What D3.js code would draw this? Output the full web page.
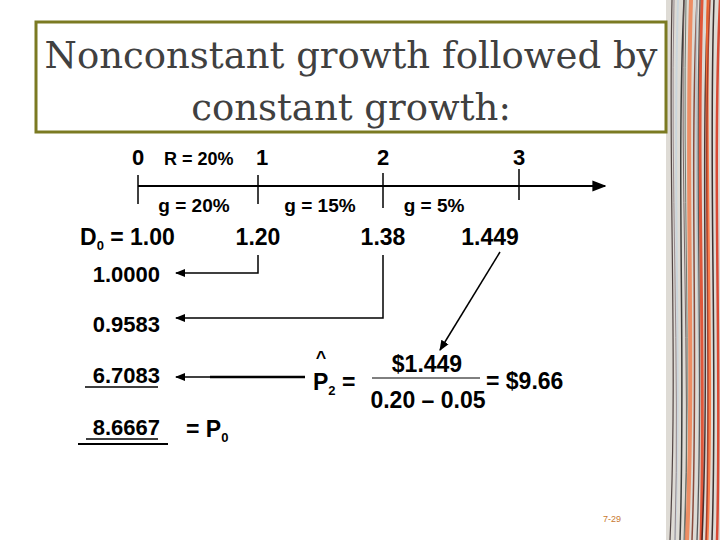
<!DOCTYPE html>
<html><head><meta charset="utf-8">
<script src="https://cdn.jsdelivr.net/npm/d3@7"></script>
<style>body{margin:0;background:#fff}svg{display:block}</style>
</head><body>
<script>
// slide data
const periods = [0, 1, 2, 3]
const periodLabels = ["0", "1", "2", "3"]
const growthLabels = ["g = 20%", "g = 15%", "g = 5%"]
const dividendLabels = ["1.20", "1.38", "1.449"]
const pvLabels = ["1.0000", "0.9583", "6.7083"]
const priceLabel = "8.6667"

const W = 720, H = 540
const svg = d3.select("body").append("svg").attr("width", W).attr("height", H)
  .style("font-family", "'Liberation Sans', Arial, sans-serif")

const defs = svg.append("defs")
defs.append("marker").attr("id", "ah").attr("viewBox", "0 0 10 10")
  .attr("refX", 9).attr("refY", 5).attr("markerWidth", 7).attr("markerHeight", 7)
  .attr("orient", "auto-start-reverse")
  .append("path").attr("d", "M0,1L10,5L0,9Z").attr("fill", "#000")

// right decorative strip
svg.append("rect").attr("x", 666).attr("y", 0).attr("width", 54).attr("height", H).attr("fill", "#dedbd5")
const streaks = [[672,"#3a2a2a",1.2],[676,"#c8d4dc",2],[680,"#222",1.5],[684,"#6a5050",1],[689,"#f08050",4],[693,"#7a3020",1.5],
  [697,"#b0c0c8",1.5],[700,"#e04020",3],[704,"#301818",1.5],[708,"#ff6a30",3],[712,"#201010",1.5],[716,"#d83018",2.5],
  [686,"#5a6a60",1],[698,"#444",1.2],[706,"#993322",1.5],[674,"#8a7a80",1]]
streaks.forEach(([x, c, w], i) => {
  svg.append("path").attr("d", `M${x + (i % 3) * 2},0 C${x - 4},180 ${x + 6},360 ${x - 2 + (i % 4)},540`)
    .attr("stroke", c).attr("stroke-width", w).attr("fill", "none").attr("opacity", 0.85)
})

// title box
svg.append("rect").attr("x", 36).attr("y", 22).attr("width", 630).attr("height", 110)
  .attr("fill", "#fff").attr("stroke", "#7b7a22").attr("stroke-width", 3)
const title = svg.append("text").attr("text-anchor", "middle").attr("fill", "#404040")
  .style("font-family", "'DejaVu Serif', 'Liberation Serif', serif").attr("font-size", 37)
title.append("tspan").attr("x", 351).attr("y", 68).text("Nonconstant growth followed by")
title.append("tspan").attr("x", 351).attr("y", 120).text("constant growth:")

const x = d3.scaleLinear().domain(periods).range([138, 258, 383, 519])
const lineY = 186

// timeline
svg.append("line").attr("x1", x(0)).attr("x2", 605).attr("y1", lineY).attr("y2", lineY)
  .attr("stroke", "#000").attr("stroke-width", 2).attr("marker-end", "url(#ah)")
const tickExt = [[175, 204], [175, 204], [173, 208], [169, 200]]
periods.forEach((p, i) => {
  svg.append("line").attr("x1", x(p)).attr("x2", x(p)).attr("y1", tickExt[i][0]).attr("y2", tickExt[i][1])
    .attr("stroke", "#000").attr("stroke-width", 1.5)
  svg.append("text").attr("x", x(p) + (i === 1 ? 4 : 0)).attr("y", 165).attr("text-anchor", "middle")
    .attr("font-size", 22).attr("font-weight", "bold").text(periodLabels[i])
})
svg.append("text").attr("x", 164).attr("y", 165).attr("font-size", 18).attr("font-weight", "bold").text("R = 20%")

const gx = [194, 320, 434]
growthLabels.forEach((g, i) => svg.append("text").attr("x", gx[i]).attr("y", 212).attr("text-anchor", "middle")
  .attr("font-size", 19).attr("font-weight", "bold").text(g))

// dividends
const d0 = svg.append("text").attr("x", 80).attr("y", 245).attr("font-size", 23).attr("font-weight", "bold")
d0.append("tspan").text("D")
d0.append("tspan").attr("font-size", 13).attr("dy", 5).text("0")
d0.append("tspan").attr("dy", -5).text(" = 1.00")
const dx = [x(1), x(2), 490]
dividendLabels.forEach((d, i) => svg.append("text").attr("x", dx[i]).attr("y", 245).attr("text-anchor", "middle")
  .attr("font-size", 23).attr("font-weight", "bold").text(d))

// present values column
const pvY = [282, 332, 383]
pvLabels.forEach((v, i) => svg.append("text").attr("x", 160).attr("y", pvY[i]).attr("text-anchor", "end")
  .attr("font-size", 22).attr("font-weight", "bold").text(v))
svg.append("line").attr("x1", 85).attr("x2", 158).attr("y1", 387).attr("y2", 387).attr("stroke", "#000").attr("stroke-width", 1.5)

const arrow = d => svg.append("path").attr("d", d).attr("fill", "none").attr("stroke", "#000")
  .attr("stroke-width", 1.5).attr("marker-end", "url(#ah)")
arrow(`M${x(1)},255V273H176`)
arrow(`M${x(2)},255V318H176`)
arrow(`M500,252L440,350`)
arrow(`M305,377H176`)
svg.append("line").attr("x1", 210).attr("x2", 305).attr("y1", 377).attr("y2", 377).attr("stroke", "#000").attr("stroke-width", 2.5)

// terminal value formula
const p2 = svg.append("text").attr("x", 313).attr("y", 390).attr("font-size", 23).attr("font-weight", "bold")
p2.append("tspan").text("P")
p2.append("tspan").attr("font-size", 13).attr("dy", 5).text("2")
p2.append("tspan").attr("dy", -5).text(" =")
svg.append("text").attr("x", 321).attr("y", 364).attr("text-anchor", "middle").attr("font-size", 18).attr("font-weight", "bold").text("^")
svg.append("text").attr("x", 427).attr("y", 372).attr("text-anchor", "middle").attr("font-size", 23).attr("font-weight", "bold").text("$1.449")
svg.append("line").attr("x1", 372).attr("x2", 480).attr("y1", 378).attr("y2", 378).attr("stroke", "#000").attr("stroke-width", 1)
svg.append("text").attr("x", 428).attr("y", 408).attr("text-anchor", "middle").attr("font-size", 23).attr("font-weight", "bold").text("0.20 – 0.05")
svg.append("text").attr("x", 486).attr("y", 389).attr("font-size", 23).attr("font-weight", "bold").text("= $9.66")

// price today
svg.append("text").attr("x", 160).attr("y", 435).attr("text-anchor", "end").attr("font-size", 22).attr("font-weight", "bold").text(priceLabel)
svg.append("line").attr("x1", 86).attr("x2", 158).attr("y1", 439).attr("y2", 439).attr("stroke", "#000").attr("stroke-width", 1.5)
svg.append("line").attr("x1", 78).attr("x2", 168).attr("y1", 444).attr("y2", 444).attr("stroke", "#000").attr("stroke-width", 2)
const p0 = svg.append("text").attr("x", 186).attr("y", 437).attr("font-size", 23).attr("font-weight", "bold")
p0.append("tspan").text("=  P")
p0.append("tspan").attr("font-size", 13).attr("dy", 5).text("0")

svg.append("text").attr("x", 612).attr("y", 522).attr("text-anchor", "middle").attr("font-size", 9).attr("fill", "#c87830").text("7-29")
</script>
</body></html>
